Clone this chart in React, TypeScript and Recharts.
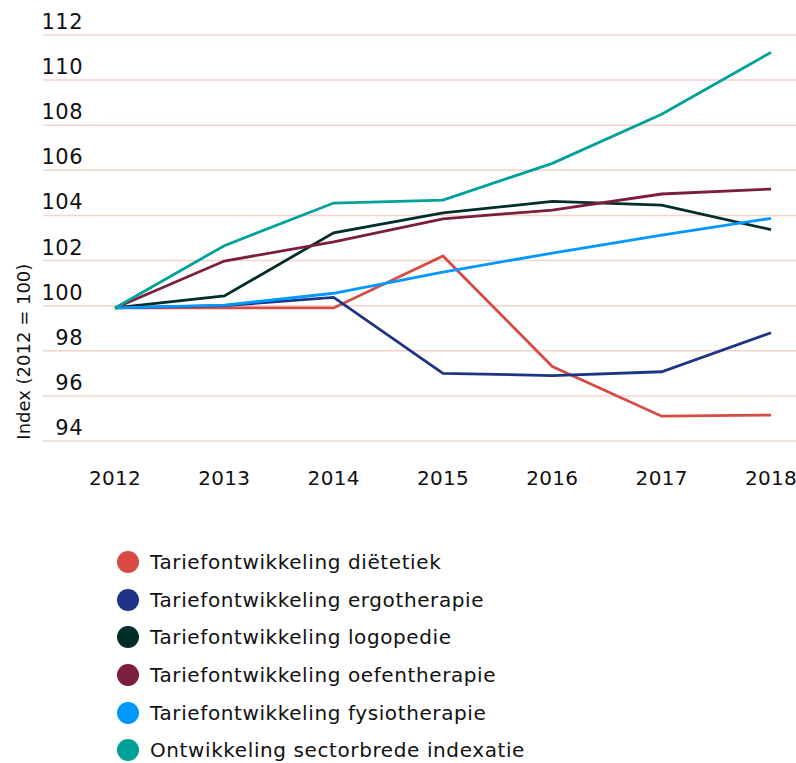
import { CartesianGrid, Legend, Line, LineChart, XAxis, YAxis } from "recharts";

const years = ["2012", "2013", "2014", "2015", "2016", "2017", "2018"];

const dietetiek = [99.9, 99.9, 99.9, 102.2, 97.3, 95.1, 95.15];
const ergotherapie = [99.9, 100.0, 100.37, 97.0, 96.9, 97.07, 98.8];
const logopedie = [99.9, 100.43, 103.23, 104.11, 104.62, 104.46, 103.37];
const oefentherapie = [99.9, 101.98, 102.83, 103.85, 104.24, 104.95, 105.17];
const fysiotherapie = [99.9, 100.02, 100.55, 101.49, 102.33, 103.13, 103.87];
const indexatie = [99.9, 102.66, 104.55, 104.68, 106.31, 108.49, 111.23];

const yTicks = [94, 96, 98, 100, 102, 104, 106, 108, 110, 112];

const series = [
  { key: "dietetiek", name: "Tariefontwikkeling diëtetiek", color: "#d84a44", values: dietetiek },
  { key: "ergotherapie", name: "Tariefontwikkeling ergotherapie", color: "#1e3585", values: ergotherapie },
  { key: "logopedie", name: "Tariefontwikkeling logopedie", color: "#022e2a", values: logopedie },
  { key: "oefentherapie", name: "Tariefontwikkeling oefentherapie", color: "#7b1d3c", values: oefentherapie },
  { key: "fysiotherapie", name: "Tariefontwikkeling fysiotherapie", color: "#0098ff", values: fysiotherapie },
  { key: "indexatie", name: "Ontwikkeling sectorbrede indexatie", color: "#00a19a", values: indexatie }
];

const data = years.map((year, i) => {
  const row: Record<string, string | number> = { year };
  series.forEach((s) => {
    row[s.key] = s.values[i];
  });
  return row;
});

const font = "'DejaVu Sans', Verdana, sans-serif";

function YTick({ x, y, payload }: any) {
  return (
    <text x={x + 40} y={y - 6} textAnchor="end" fontSize={21} letterSpacing={0.5} fill="#111" fontFamily={font}>
      {payload.value}
    </text>
  );
}

function XTick({ x, y, payload }: any) {
  return (
    <text x={x} y={y + 44} textAnchor="middle" fontSize={20} letterSpacing={0.3} fill="#111" fontFamily={font}>
      {payload.value}
    </text>
  );
}

function LegendList() {
  return (
    <ul style={{ listStyle: "none", margin: 0, padding: 0, fontFamily: font, fontSize: 20, letterSpacing: 0.6, color: "#111" }}>
      {series.map((s) => (
        <li key={s.key} style={{ display: "flex", alignItems: "center", height: 37.7 }}>
          <span
            style={{ display: "inline-block", width: 22, height: 22, borderRadius: "50%", background: s.color, marginRight: 11 }}
          />
          {s.name}
        </li>
      ))}
    </ul>
  );
}

export default function App() {
  return (
    <div style={{ position: "absolute", left: 0, top: 0, width: 796, height: 763, background: "#fff" }}>
      <LineChart width={796} height={763} data={data} margin={{ top: 35, right: 0, left: 0, bottom: 292 }}>
        <CartesianGrid horizontal vertical={false} stroke="#f3d3cc" strokeWidth={1.5} />
        <XAxis
          dataKey="year"
          height={30}
          axisLine={false}
          tickLine={false}
          tickSize={0}
          tickMargin={0}
          padding={{ left: 72, right: 25 }}
          tick={<XTick />}
          interval={0}
        />
        <YAxis
          width={43}
          domain={[94, 112]}
          ticks={yTicks}
          axisLine={false}
          tickLine={false}
          tickSize={0}
          tickMargin={0}
          tick={<YTick />}
          interval={0}
          label={{
            content: ({ viewBox }: any) => (
              <text
                x={viewBox.x + 30}
                y={viewBox.y + viewBox.height * 0.78}
                transform={`rotate(-90 ${viewBox.x + 30} ${viewBox.y + viewBox.height * 0.78})`}
                textAnchor="middle"
                fontSize={18}
                fill="#111"
                fontFamily={font}
              >
                Index (2012 = 100)
              </text>
            )
          }}
        />
        {series.map((s) => (
          <Line
            key={s.key}
            type="linear"
            dataKey={s.key}
            name={s.name}
            stroke={s.color}
            strokeWidth={2.8}
            dot={false}
            activeDot={false}
            isAnimationActive={false}
          />
        ))}
        <Legend
          layout="vertical"
          align="center"
          verticalAlign="middle"
          wrapperStyle={{ top: 543, left: 117, width: 520 }}
          content={<LegendList />}
        />
      </LineChart>
    </div>
  );
}
